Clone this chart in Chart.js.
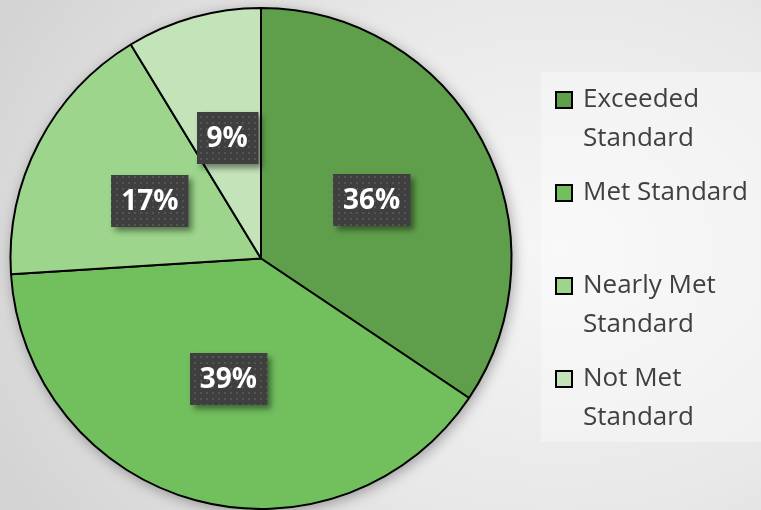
<!DOCTYPE html>
<html>
<head>
<meta charset="utf-8">
<script src="https://cdn.jsdelivr.net/npm/chart.js@4/dist/chart.umd.min.js"></script>
<style>
  html, body { margin: 0; padding: 0; }
  body {
    width: 761px; height: 510px; overflow: hidden;
    background: radial-gradient(ellipse 620px 480px at 560px 250px, #f6f6f6 0%, #e8e8e8 55%, #d4d4d4 100%);
  }
  #wrap { position: relative; width: 761px; height: 510px; }
</style>
</head>
<body>
<div id="wrap"><canvas id="scoreChart"></canvas></div>
<script>
// Данные диаграммы
const categories = ['Exceeded Standard', 'Met Standard', 'Nearly Met Standard', 'Not Met Standard'];
const shares = [34.4, 39.6, 17.3, 8.7];          // slice sizes
const pctLabels = ['36%', '39%', '17%', '9%'];     // labels as printed
const colors = ['#5f9f4b', '#72bf5e', '#9cd58b', '#c3e3b9'];

const labelFont = 'bold 28px "Open Sans", sans-serif';
const legendFont = '26px "Open Sans", sans-serif';

// dotted pattern for the label boxes
function makePattern(ctx) {
  const p = document.createElement('canvas');
  p.width = 6; p.height = 6;
  const pc = p.getContext('2d');
  pc.fillStyle = '#3f3f3f';
  pc.fillRect(0, 0, 6, 6);
  pc.fillStyle = '#545454';
  pc.fillRect(2, 2, 2, 2);
  return ctx.createPattern(p, 'repeat');
}

// тень под кругом
const pieShadow = {
  id: 'pieShadow',
  beforeDatasetsDraw(chart) {
    const arc = chart.getDatasetMeta(0).data[0];
    if (!arc) return;
    const ctx = chart.ctx;
    ctx.save();
    ctx.shadowColor = 'rgba(0,0,0,0.35)';
    ctx.shadowBlur = 14;
    ctx.shadowOffsetX = 2;
    ctx.shadowOffsetY = 3;
    ctx.fillStyle = '#888';
    ctx.beginPath();
    ctx.arc(arc.x, arc.y, arc.outerRadius, 0, Math.PI * 2);
    ctx.fill();
    ctx.restore();
  }
};

// подписи в тёмных плашках
const boxLabels = {
  id: 'boxLabels',
  afterDatasetsDraw(chart) {
    const ctx = chart.ctx;
    const pattern = makePattern(ctx);
    chart.getDatasetMeta(0).data.forEach((arc, i) => {
      const pos = arc.tooltipPosition();
      const text = pctLabels[i];
      ctx.save();
      ctx.font = labelFont;
      const w = ctx.measureText(text).width + 20;
      const h = 52;
      const x = Math.round(pos.x - w / 2), y = Math.round(pos.y - h / 2);
      ctx.shadowColor = 'rgba(0,0,0,0.45)';
      ctx.shadowBlur = 6;
      ctx.shadowOffsetX = 4;
      ctx.shadowOffsetY = 4;
      ctx.fillStyle = '#3f3f3f';
      ctx.fillRect(x, y, w, h);
      ctx.shadowColor = 'transparent';
      ctx.fillStyle = pattern;
      ctx.fillRect(x, y, w, h);
      ctx.fillStyle = '#ffffff';
      ctx.textAlign = 'center';
      ctx.textBaseline = 'middle';
      ctx.fillText(text, pos.x, pos.y + 1);
      ctx.restore();
    });
  }
};

// легенда справа
const sideLegend = {
  id: 'sideLegend',
  afterDraw(chart) {
    const ctx = chart.ctx;
    ctx.save();
    ctx.fillStyle = 'rgba(255,255,255,0.35)';
    ctx.fillRect(541, 72, 220, 370);
    ctx.font = legendFont;
    ctx.textBaseline = 'middle';
    categories.forEach((name, i) => {
      const cy = 100 + i * 93;
      ctx.fillStyle = colors[i];
      ctx.fillRect(556, cy - 8, 16, 16);
      ctx.strokeStyle = '#000';
      ctx.lineWidth = 2;
      ctx.strokeRect(556, cy - 8, 16, 16);
      // перенос по словам
      const words = name.split(' ');
      const lines = [];
      let line = '';
      words.forEach(wd => {
        const test = line ? line + ' ' + wd : wd;
        if (ctx.measureText(test).width > 178 && line) { lines.push(line); line = wd; }
        else line = test;
      });
      lines.push(line);
      ctx.fillStyle = '#404040';
      lines.forEach((l, k) => ctx.fillText(l, 583, cy + k * 39));
    });
    ctx.restore();
  }
};

const ctx = document.getElementById('scoreChart').getContext('2d');

const scoreChart = new Chart(ctx, {
  type: 'pie',
  data: {
    labels: categories,
    datasets: [{
      data: shares,
      backgroundColor: colors,
      borderColor: '#000000',
      borderWidth: 2,
      hoverOffset: 0
    }]
  },
  options: {
    responsive: true,
    maintainAspectRatio: false,
    animation: false,
    layout: { padding: { left: 9, right: 248, top: 7, bottom: 0 } },
    plugins: {
      legend: { display: false },
      tooltip: { enabled: false }
    }
  },
  plugins: [pieShadow, boxLabels, sideLegend]
});
</script>
</body>
</html>
